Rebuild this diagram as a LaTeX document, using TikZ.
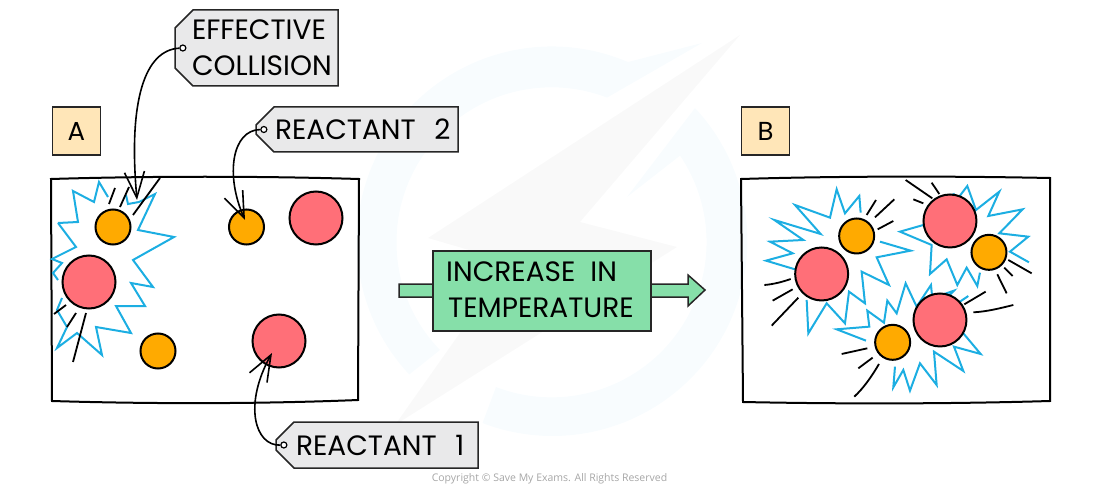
\documentclass[tikz,border=0pt]{standalone}
\usepackage{fontspec}
\setmainfont{Poppins}
\newfontfamily\copyfont{Open Sans}
\usetikzlibrary{arrows.meta,shapes.misc,positioning}
\definecolor{ballred}{HTML}{FF6F78}
\definecolor{ballorange}{HTML}{FFAA00}
\definecolor{burstblue}{HTML}{1CAEE2}
\definecolor{taggrey}{HTML}{E9E9EA}
\definecolor{letterbg}{HTML}{FFE6B8}
\definecolor{heatgreen}{HTML}{86DFA9}
\definecolor{markblue}{HTML}{F8FCFE}
\definecolor{markgrey}{HTML}{F9F9F9}
\tikzset{>={Straight Barb[length=26pt,width=20pt]},
    redball/.style={circle, draw=black, fill=ballred, line width=2pt, minimum size=53pt, inner sep=0pt},
    orangeball/.style={circle, draw=black, fill=ballorange, line width=2pt, minimum size=35pt, inner sep=0pt},
    burst/.style={draw=burstblue, line width=2pt},
    tick/.style={draw=black, line width=1.8pt},
    vessel/.style={draw=black, line width=2pt},
    letterbox/.style={rectangle, draw=black!85, fill=letterbg, line width=1.5pt, minimum size=48pt, inner sep=0pt, font=\fontsize{26}{30}\selectfont},
    tagbox/.style={chamfered rectangle, chamfered rectangle corners={north west,south west}, chamfered rectangle xsep=9pt, chamfered rectangle ysep=9pt,
        draw=black!85, fill=taggrey, line width=1.5pt, align=left, inner ysep=0pt, font=\fontsize{28}{36}\selectfont},
    taghole/.style={circle, draw=black, fill=white, line width=1.2pt, minimum size=6pt, inner sep=0pt},
    pointer/.style={->, draw=black, line width=1.6pt}}
\begin{document}
\begin{tikzpicture}[x=1pt,y=-1pt]
    \useasboundingbox (0,0) rectangle (1100,489);
    % faint logo behind the picture
    \fill[markblue] (702,43) -- (628,62) arc[start angle=-67, end angle=-223, radius=195] -- (440,350) arc[start angle=-224, end angle=-69, radius=155] -- cycle;
    \fill[markblue] (695,108) arc[start angle=-43, end angle=111, radius=195] -- (496,387) arc[start angle=111, end angle=-34, radius=155] -- (627,197) -- cycle;
    \fill[markgrey] (740,35) -- (428,238) -- (510,262) -- (395,425) -- (677,247) -- (580,222) -- cycle;
    % vessels
    \draw[vessel] (51,179) .. controls (150,176) and (260,176) .. (359,179) -- (358,400) .. controls (260,404) and (150,404) .. (52,401) -- cycle;
    \draw[vessel] (741,179) .. controls (840,176) and (950,176) .. (1050,178) -- (1050,401) .. controls (950,404) and (840,404) .. (743,402) -- cycle;
    \node[letterbox] (lettera) at (76.5,131) {A};
    \node[letterbox] (letterb) at (765.5,131) {B};
    % burst in A
    \draw[burst] (58,223) -- (78,222) -- (73,191) -- (94,202) -- (99,182) -- (108,197);
    \draw[burst] (126,195) -- (128,204) -- (139,202) -- (155,194) -- (138,230) -- (174,237) -- (133,260) -- (153,287) -- (131,283) -- (145,306) -- (116,306) -- (131,333) -- (96,327) -- (102,355) -- (77,333) -- (57,348) -- (67,327) -- (57,310) -- (62,298);
    \draw[burst] (58,223) -- (76,247) -- (52,259) -- (62,263) -- (53,273) -- (58,280);
    \foreach \xa/\ya/\xb/\yb in {109/204/115/188, 120/207/129/187, 133/215/160/178, 54/314/66/305, 67/327/76/313, 73/362/86/313}
        \draw[tick] (\xa,\ya) -- (\xb,\yb);
    \node[orangeball] (oa1) at (113,227) {};
    \node[redball] (ra1) at (89,282) {};
    \node[orangeball] (oa2) at (246.5,227) {};
    \node[redball] (ra2) at (316,218) {};
    \node[orangeball] (oa3) at (158,351) {};
    \node[redball] (ra3) at (279,341) {};
    % burst in B, read off at three times the size
    \begin{scope}[shift={(730,170)}, x=0.3333pt, y=-0.3333pt]
        \draw[burst] (392,128) -- (388,78) -- (345,130) -- (320,58) -- (300,143) -- (195,105) -- (272,192) -- (133,150) -- (220,210) -- (120,215) -- (188,250) -- (108,272) -- (195,298);
        \draw[burst] (230,390) -- (235,490) -- (290,400) -- (345,460) -- (357,365) -- (405,400) -- (395,305) -- (477,345) -- (440,262) -- (542,242) -- (450,215);
        \draw[burst] (580,165) -- (510,185) -- (605,225) -- (600,312) -- (650,268) -- (682,345) -- (710,293) -- (742,348) -- (750,308);
        \draw[burst] (670,70) -- (680,90) -- (712,48) -- (738,120) -- (808,65) -- (775,138) -- (878,118) -- (808,190) -- (895,200) -- (840,245) -- (897,277);
        \draw[burst] (408,512) -- (320,478) -- (418,470) -- (412,422) -- (462,458) -- (472,392) -- (500,430) -- (527,340) -- (560,410) -- (603,345) -- (607,385) -- (672,362) -- (650,385);
        \draw[burst] (715,378) -- (690,395);
        \draw[burst] (700,490) -- (752,552) -- (672,530) -- (700,603) -- (612,545) -- (620,645) -- (570,580) -- (540,662) -- (520,600) -- (490,652) -- (495,590);
        \foreach \xa/\ya/\xb/\yb in {410/135/438/90, 435/142/493/88, 443/178/490/153, 128/392/188/358, 125/467/205/383, 527/30/607/85, 605/38/628/72, 550/88/580/100, 835/270/905/310, 823/293/848/318, 802/313/830/370, 703/403/767/365, 335/552/412/535, 385/595/428/563}
            \draw[tick] (\xa,\ya) -- (\xb,\yb);
        \draw[tick] (103,345) .. controls (130,343) and (160,335) .. (182,327);
        \draw[tick] (730,427) .. controls (770,425) and (810,415) .. (850,405);
        \draw[tick] (373,680) .. controls (400,655) and (425,620) .. (447,582);
        \node[redball] (rb1) at (275,312) {};
        \node[orangeball] (ob1) at (380,198) {};
        \node[redball] (rb2) at (660,153) {};
        \node[orangeball] (ob2) at (777,247) {};
        \node[redball] (rb3) at (630,450) {};
        \node[orangeball] (ob3) at (488,517) {};
    \end{scope}
    % temperature arrow
    \draw[draw=black!85, fill=heatgreen, line width=1.5pt] (399,284) -- (688,284) -- (688,275) -- (705,290) -- (688,306) -- (688,297) -- (399,297) -- cycle;
    \node[rectangle, draw=black!85, fill=heatgreen, line width=1.5pt, minimum width=218pt, minimum height=80pt, inner sep=0pt] (heat) at (542,291) {};
    \node[anchor=west, inner sep=0pt, font=\fontsize{28}{36}\selectfont] (heatone) at (446,272) {INCREASE\ \ IN};
    \node[anchor=west, inner sep=0pt, font=\fontsize{28}{36}\selectfont] (heattwo) at (448,308) {TEMPERATURE};
    % labels
    \node[tagbox, inner xsep=8pt, text width=129pt, minimum height=76pt] (efftag) at (256.5,48) {\makebox[129pt][l]{EFFECTIVE}\\COLLISION};
    \node[tagbox, inner xsep=10pt, text width=164pt, minimum height=45pt] (twotag) at (357,129.5) {\makebox[164pt][l]{REACTANT\ \ 2}};
    \node[tagbox, inner xsep=11pt, text width=162pt, minimum height=46pt] (onetag) at (377,445) {\makebox[162pt][l]{REACTANT\ \ 1}};
    \node[taghole, right=5pt of efftag.west] (effhole) {};
    \node[taghole, right=5pt of twotag.west] (twohole) {};
    \node[taghole, right=5pt of onetag.west] (onehole) {};
    \coordinate (efftip) at (137,200);
    \coordinate (twotip) at (245,220);
    \coordinate (onetip) at (272,353);
    \draw[pointer] (effhole) .. controls (145,50) and (128,100) .. (efftip);
    \draw[pointer] (twohole) .. controls (232,130) and (225,175) .. (twotip);
    \draw[pointer] (onehole) .. controls (255,446) and (243,405) .. (onetip);
    \node[text=black!35, font=\copyfont\fontsize{10.5}{12}\selectfont] (copy) at (549.5,479) {Copyright © Save My Exams. All Rights Reserved};
\end{tikzpicture}
\end{document}
